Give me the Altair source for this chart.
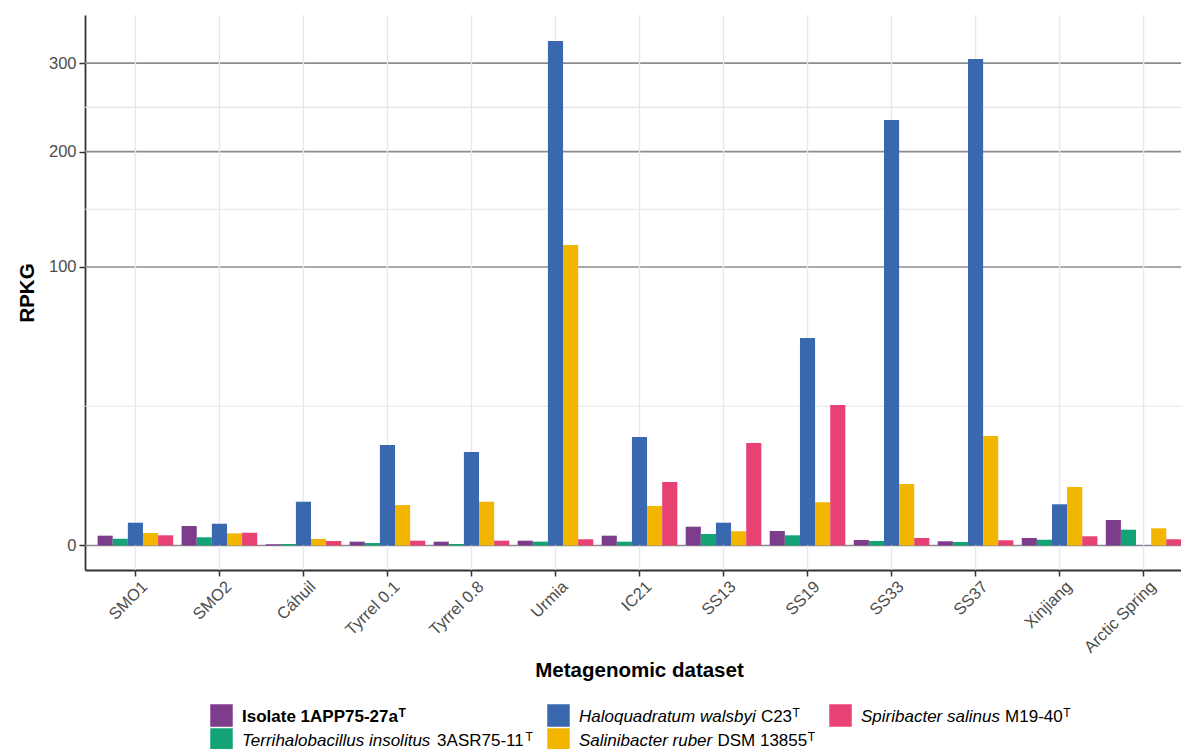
import altair as alt
import pandas as pd

# ---- data -----------------------------------------------------------------
datasets = ["SMO1", "SMO2", "Cáhuil", "Tyrrel 0.1", "Tyrrel 0.8", "Urmia", "IC21",
            "SS13", "SS19", "SS33", "SS37", "Xinjiang", "Arctic Spring"]

series_keys = ["Isolate 1APP75-27a", "Terrihalobacillus insolitus 3ASR75-11",
               "Haloquadratum walsbyi C23", "Salinibacter ruber DSM 13855",
               "Spiribacter salinus M19-40"]

isolate_1app75 = [0.124, 0.49, 0.002, 0.019, 0.019, 0.03, 0.124, 0.456, 0.27, 0.039, 0.023, 0.073, 0.838]
terrihalobacillus = [0.06, 0.087, 0.003, 0.008, 0.003, 0.019, 0.019, 0.17, 0.134, 0.026, 0.016, 0.043, 0.322]
haloquadratum = [0.67, 0.61, 2.47, 13.0, 11.27, 328.2, 15.18, 0.67, 55.5, 233.4, 305.2, 2.19, 0.0001]
salinibacter = [0.20, 0.19, 0.054, 2.11, 2.47, 116.4, 2.01, 0.26, 2.41, 4.88, 15.46, 4.41, 0.381]
spiribacter = [0.134, 0.21, 0.026, 0.03, 0.03, 0.05, 5.2, 13.55, 25.45, 0.073, 0.035, 0.109, 0.05]

series_values = [isolate_1app75, terrihalobacillus, haloquadratum, salinibacter, spiribacter]
colors = ["#7D3C8C", "#14A377", "#3A68AE", "#F2B600", "#E84173"]

y_breaks = [0, 100, 200, 300]

# legend label pieces: (text, style)
legend_parts = [
    [("Isolate 1APP75-27a", "bold"), ("T", "supbold")],
    [("Terrihalobacillus insolitus", "italic"), (" 3ASR75-11", "plain"), ("T", "sup")],
    [("Haloquadratum walsbyi", "italic"), (" C23", "plain"), ("T", "sup")],
    [("Salinibacter ruber", "italic"), (" DSM 13855", "plain"), ("T", "sup")],
    [("Spiribacter salinus", "italic"), (" M19-40", "plain"), ("T", "sup")],
]

# ---- layout ---------------------------------------------------------------
FONT = "Liberation Sans"
LEFT, TOP = 85, 15
W, H = 1096, 555
X_RANGE = 1109          # panel continues past the right edge of the page
BOTTOM = 749 - TOP - H

# Arial-metric advance widths (per 1000 em) for placing styled text runs
REG = {' ': 278, '-': 333, 'A': 667, 'C': 722, 'D': 722, 'H': 722, 'M': 833,
       'R': 722, 'S': 667, 'T': 611, 'a': 556, 'b': 556, 'c': 500, 'd': 556,
       'e': 556, 'h': 556, 'i': 222, 'l': 222, 'm': 833, 'n': 556, 'o': 556,
       'p': 556, 'q': 556, 'r': 333, 's': 500, 't': 278, 'u': 556, 'w': 722,
       'y': 500}
BOLD = {' ': 278, '-': 333, 'A': 722, 'I': 278, 'P': 667, 'T': 611, 'a': 556,
        'e': 556, 'l': 278, 'o': 611, 's': 556, 't': 333}
for d in "0123456789":
    REG[d] = 556
    BOLD[d] = 556


def text_width(s, size, bold=False):
    table = BOLD if bold else REG
    return sum(table.get(c, 556) for c in s) / 1000.0 * size


LEG_SIZE, SUP_SIZE = 17, 12
col_x = [221.5, 558.5, 840.5]     # square centres
row_y = [715.5, 739.5]
slots = [(0, 0), (0, 1), (1, 0), (1, 1), (2, 0)]

key_rows, seg_rows = [], []
for key, parts, (c, r) in zip(series_keys, legend_parts, slots):
    cx, cy = col_x[c] - LEFT, row_y[r] - TOP
    key_rows.append({"series": key, "lx": cx, "ly": cy})
    x = cx + 20.5
    base = cy + 6.5
    for text, style in parts:
        is_sup = style.startswith("sup")
        bold = "bold" in style
        size = SUP_SIZE if is_sup else LEG_SIZE
        lead = len(text) - len(text.lstrip(" "))
        x += text_width(" " * lead, size, bold)
        t = text.strip()
        seg_rows.append({"txt": t, "style": style, "lx": x,
                         "ly": base - (5.5 if is_sup else 0)})
        x += text_width(t, size, bold) + (0.5 if not is_sup else 0)

keys_df = pd.DataFrame(key_rows)
segs_df = pd.DataFrame(seg_rows)

rows = []
for key, vals in zip(series_keys, series_values):
    for d, v in zip(datasets, vals):
        rows.append({"dataset": d, "series": key, "rpkg": v})
bars_df = pd.DataFrame(rows)

# minor breaks sit half-way between neighbouring major breaks in sqrt space
minor_breaks = [((a ** 0.5 + b ** 0.5) / 2) ** 2 for a, b in zip(y_breaks[:-1], y_breaks[1:])]

# ---- scales ---------------------------------------------------------------
x_scale = alt.Scale(domain=datasets, range=[0, X_RANGE], paddingInner=0.1, paddingOuter=0.15)
y_scale = alt.Scale(type="sqrt", domain=[-0.774, 362.8], nice=False, zero=False)
color_scale = alt.Scale(domain=series_keys, range=colors)

minor_grid = alt.Chart(pd.DataFrame({"v": minor_breaks})).mark_rule(
    color="#e4e4e4", strokeWidth=1.1
).encode(y=alt.Y("v:Q", scale=y_scale, axis=None))

major_grid = alt.Chart(pd.DataFrame({"v": y_breaks})).mark_rule(
    color="#8c8c8c", strokeWidth=1.6
).encode(y=alt.Y("v:Q", scale=y_scale, axis=None))

vert_grid = alt.Chart(pd.DataFrame({"dataset": datasets})).mark_rule(
    color="#e8e8e8", strokeWidth=1.4
).encode(x=alt.X("dataset:N", scale=x_scale, sort=datasets, axis=None))

bars = alt.Chart(bars_df).mark_bar().encode(
    x=alt.X("dataset:N", scale=x_scale, sort=datasets,
            axis=alt.Axis(title="Metagenomic dataset", labelAngle=315, labelAlign="right",
                          labelBaseline="top", labelPadding=2, labelOffset=4,
                          tickSize=6, grid=False, titleX=554, titleY=106,
                          titleBaseline="alphabetic", titleAnchor="middle")),
    xOffset=alt.XOffset("series:N", sort=series_keys,
                        scale=alt.Scale(domain=series_keys, paddingInner=0, paddingOuter=0)),
    y=alt.Y("rpkg:Q", scale=y_scale,
            axis=alt.Axis(title="RPKG", values=y_breaks, grid=False, tickSize=6,
                          labelPadding=3, titleAngle=270, titleX=-52, titleY=H / 2,
                          titleBaseline="alphabetic", titleAlign="center")),
    y2=alt.datum(0),
    color=alt.Color("series:N", scale=color_scale, legend=None),
)

legend_keys = alt.Chart(keys_df).mark_square(size=506, opacity=1, filled=True).encode(
    x=alt.X("lx:Q", scale=None, axis=None),
    y=alt.Y("ly:Q", scale=None, axis=None),
    color=alt.Color("series:N", scale=color_scale, legend=None),
)


def legend_text(style, size, weight="normal", font_style="normal"):
    return alt.Chart(segs_df).transform_filter(
        alt.datum.style == style
    ).mark_text(
        align="left", baseline="alphabetic", font=FONT, fontSize=size,
        fontWeight=weight, fontStyle=font_style, color="#000000"
    ).encode(
        x=alt.X("lx:Q", scale=None, axis=None),
        y=alt.Y("ly:Q", scale=None, axis=None),
        text="txt:N",
    )


legend_layers = [
    legend_text("bold", LEG_SIZE, weight="bold"),
    legend_text("italic", LEG_SIZE, font_style="italic"),
    legend_text("plain", LEG_SIZE),
    legend_text("sup", SUP_SIZE),
    legend_text("supbold", SUP_SIZE, weight="bold"),
]

chart = alt.layer(
    minor_grid, major_grid, vert_grid, bars, legend_keys, *legend_layers
).resolve_axis(
    x="independent", y="independent"
).properties(
    width=W, height=H,
    autosize=alt.AutoSizeParams(type="none"),
    padding={"left": LEFT, "top": TOP, "right": 0, "bottom": BOTTOM},
).configure_view(
    stroke=None
).configure_axis(
    labelFont=FONT, labelFontSize=16.5, labelColor="#4D4D4D",
    titleFont=FONT, titleFontSize=20.5, titleFontWeight="bold", titleColor="#000000",
    domainColor="#333333", domainWidth=1.8, tickColor="#333333", tickWidth=1.5,
    zindex=1,
)

chart.save("out.html", embed_options={"renderer": "svg", "actions": False})
